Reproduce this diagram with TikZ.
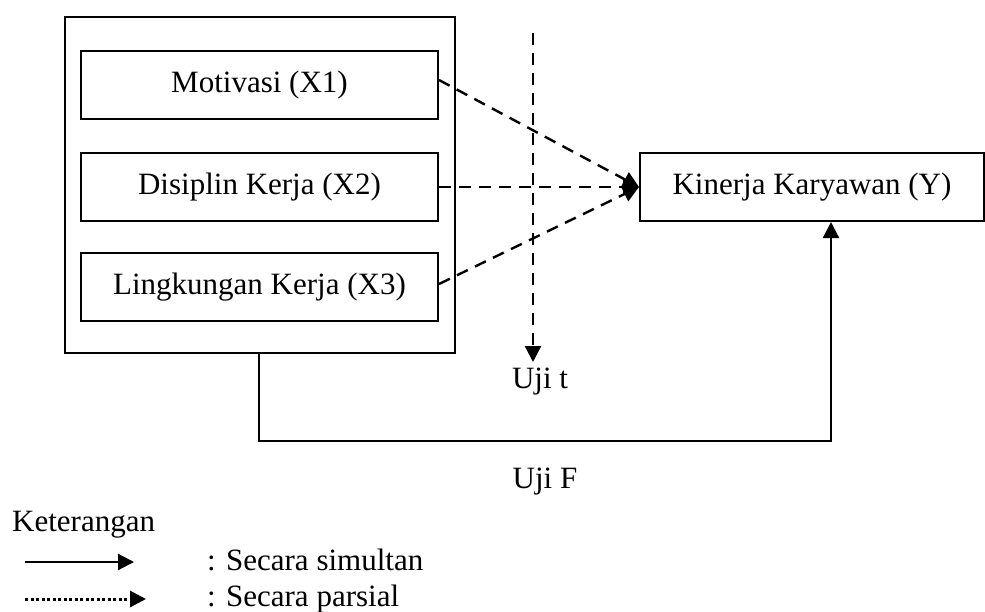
\documentclass[tikz,border=0pt]{standalone}
\usepackage{fontspec}
\setmainfont{Liberation Serif}
\usetikzlibrary{arrows.meta}
\begin{document}
\begin{tikzpicture}[x=1pt,y=-1pt,
  box/.style={draw, line width=2pt, minimum height=68pt, inner sep=0pt, font=\fontsize{31}{37}\selectfont},
  lbl/.style={inner sep=0pt, font=\fontsize{31}{37}\selectfont},
  dsh/.style={line width=2.4pt, dash pattern=on 12pt off 8pt},
  sld/.style={line width=2.2pt},
  tip/.style={-{Triangle[length=16pt,width=16pt]}}
]
\useasboundingbox (0,0) rectangle (985,611);
% boxes
\node[box, minimum width=390pt, minimum height=336pt] (outer) at (260,185) {};
\node[box, minimum width=357pt] (m) at (259.5,85) {Motivasi (X1)};
\node[box, minimum width=357pt] (d) at (259.5,187) {Disiplin Kerja (X2)};
\node[box, minimum width=357pt] (l) at (259.5,287) {Lingkungan Kerja (X3)};
\node[box, minimum width=344pt] (k) at (812,187) {Kinerja Karyawan (Y)};
% partial (dashed) arrows
\draw[dsh, tip] ([yshift=5pt]m.east) -- (k.west);
\draw[dsh, tip] (d.east) -- (k.west);
\draw[dsh, tip] ([yshift=3pt]l.east) -- (k.west);
% vertical t-test line
\coordinate (ttop) at (533,33);
\coordinate (tbot) at (533,362);
\draw[dsh, tip] (ttop) -- (tbot);
\node[lbl, anchor=base] (ujit) at (540,388) {Uji t};
% simultaneous (solid) arrow
\coordinate (f1) at (259,353);
\coordinate (f2) at (259,441);
\coordinate (f3) at (831,441);
\coordinate (f4) at ([xshift=19pt]k.south);
\draw[sld, tip] (f1) -- (f2) -- (f3) -- (f4);
\node[lbl, anchor=base] (ujif) at (545,488) {Uji F};
% legend
\node[lbl, anchor=base west] (ket) at (12,531) {Keterangan};
\coordinate (a1) at (25,562);
\coordinate (a2) at (134,562);
\draw[sld, tip] (a1) -- (a2);
\node[lbl, anchor=base west] (s1) at (207,570) {: Secara simultan};
\coordinate (b1) at (25,599);
\coordinate (b2) at (146,599);
\draw[line width=3pt, dash pattern=on 3pt off 2.5pt, tip] (b1) -- (b2);
\node[lbl, anchor=base west] (s2) at (207,606) {: Secara parsial};
\end{tikzpicture}
\end{document}
